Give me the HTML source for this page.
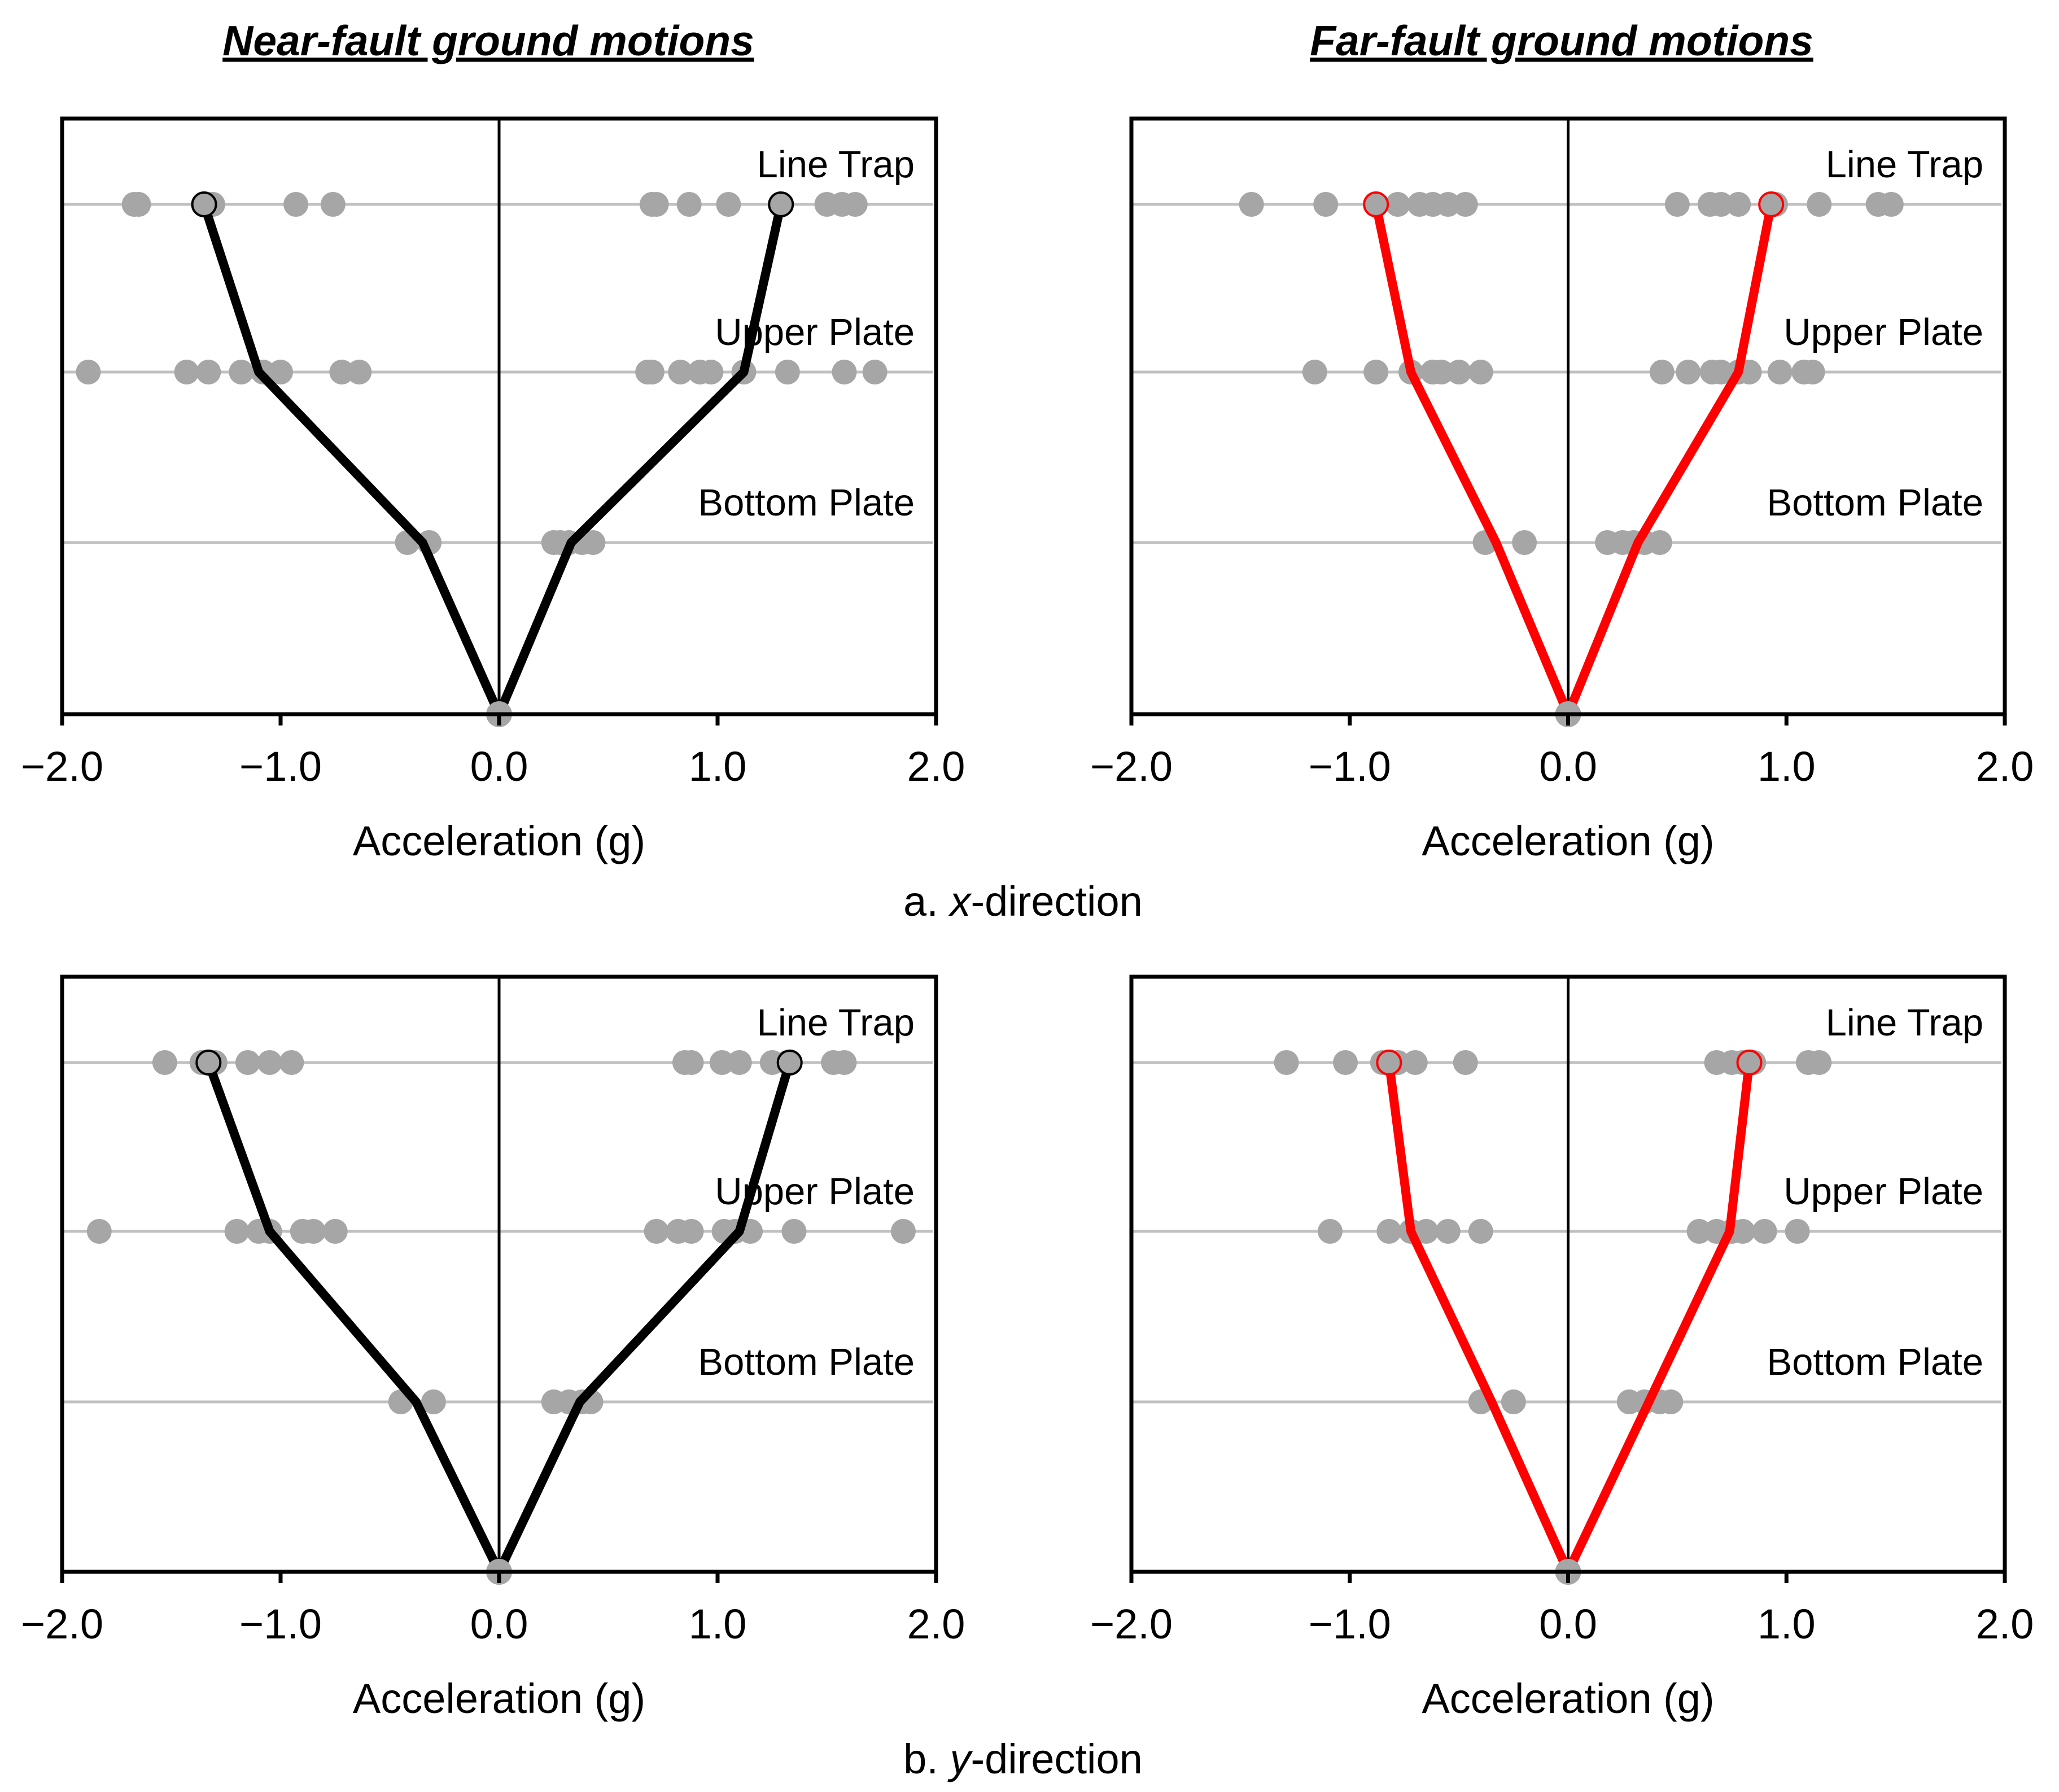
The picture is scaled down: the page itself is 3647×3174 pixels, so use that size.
<!DOCTYPE html>
<html><head><meta charset="utf-8">
<style>
html,body{margin:0;padding:0;background:#fff;}
svg{display:block;font-family:"Liberation Sans",Arial,sans-serif;}
</style></head>
<body>
<svg id="fig" width="3647" height="3174" viewBox="0 0 3647 3174" xmlns="http://www.w3.org/2000/svg">
<text x="865" y="98" text-anchor="middle" font-size="75" font-weight="bold" font-style="italic" text-decoration="underline">Near-fault ground motions</text>
<text x="2766" y="98" text-anchor="middle" font-size="75" font-weight="bold" font-style="italic" text-decoration="underline">Far-fault ground motions</text>
<text x="1812" y="1622" text-anchor="middle" font-size="74">a. <tspan font-style="italic">x</tspan>-direction</text>
<text x="1812" y="3141" text-anchor="middle" font-size="74">b. <tspan font-style="italic">y</tspan>-direction</text>
</svg>
<script>
const levelNames = ["Bottom Plate","Upper Plate","Line Trap"];
const xTicks = [-2,-1,0,1,2];
const xTickLabels = ["\u22122.0","\u22121.0","0.0","1.0","2.0"];
// panel: near x
const nearXMeanNeg = [-0.35,-1.10,-1.35];
const nearXMeanPos = [0.33,1.12,1.29];
const nearXDotsBP = [-0.42,-0.32,0.25,0.28,0.32,0.38,0.43];
const nearXDotsUP = [-1.88,-1.43,-1.33,-1.18,-1.08,-1.0,-0.72,-0.64,0.68,0.70,0.83,0.92,0.97,1.12,1.32,1.58,1.72];
const nearXDotsLT = [-1.67,-1.65,-1.35,-1.31,-0.93,-0.76,0.70,0.72,0.87,1.05,1.29,1.50,1.57,1.63];
// panel: far x
const farXMeanNeg = [-0.33,-0.72,-0.88];
const farXMeanPos = [0.32,0.78,0.93];
const farXDotsBP = [-0.38,-0.2,0.18,0.25,0.30,0.35,0.42];
const farXDotsUP = [-1.16,-0.88,-0.72,-0.62,-0.58,-0.5,-0.4,0.43,0.55,0.66,0.70,0.78,0.83,0.97,1.08,1.12];
const farXDotsLT = [-1.45,-1.11,-0.88,-0.78,-0.68,-0.62,-0.55,-0.47,0.50,0.65,0.70,0.78,0.93,0.95,1.15,1.42,1.48];
// panel: near y
const nearYMeanNeg = [-0.38,-1.05,-1.33];
const nearYMeanPos = [0.37,1.10,1.33];
const nearYDotsBP = [-0.45,-0.3,0.25,0.32,0.38,0.42];
const nearYDotsUP = [-1.83,-1.2,-1.1,-1.05,-0.9,-0.85,-0.75,0.72,0.82,0.88,1.03,1.08,1.15,1.35,1.85];
const nearYDotsLT = [-1.53,-1.36,-1.30,-1.15,-1.05,-0.95,0.85,0.88,1.02,1.10,1.25,1.32,1.53,1.58];
// panel: far y
const farYMeanNeg = [-0.35,-0.72,-0.82];
const farYMeanPos = [0.37,0.74,0.83];
const farYDotsBP = [-0.4,-0.25,0.28,0.35,0.42,0.47];
const farYDotsUP = [-1.09,-0.82,-0.72,-0.65,-0.55,-0.4,0.6,0.68,0.75,0.8,0.9,1.05];
const farYDotsLT = [-1.29,-1.02,-0.85,-0.78,-0.7,-0.47,0.68,0.75,0.8,0.85,1.1,1.15];

const NS = "http://www.w3.org/2000/svg";
const svg = document.getElementById("fig");
function mk(tag, attrs, parent){
  const e = document.createElementNS(NS, tag);
  for (const k in attrs) e.setAttribute(k, attrs[k]);
  (parent||svg).appendChild(e);
  return e;
}
function panel(key, x0, x1, yTop, levelsY, meanNeg, meanPos, dots, lineColor){
  const g = mk("g", {});
  
  
  const sx = v => x0 + (v + 2) / 4 * (x1 - x0);
  const yBot = levelsY[0];
  const ly = [levelsY[1], levelsY[2], levelsY[3]];
  ly.forEach((y, i) => {
    const l = mk("line", {x1:x0, x2:x1-6, y1:y, y2:y, stroke:"#c0c0c0", "stroke-width":5}, g);
    
    
  });
  const z = mk("line", {x1:sx(0), x2:sx(0), y1:yTop, y2:yBot, stroke:"#000", "stroke-width":5}, g);
  
  
  dots.forEach((arr, i) => {
    arr.forEach(v => {
      const c = mk("circle", {cx:sx(v), cy:ly[i], r:22, fill:"#a6a6a6"}, g);
      
      
    });
  });
  [meanNeg, meanPos].forEach((m, j) => {
    let pts = sx(0) + "," + yBot;
    m.forEach((v, i) => { pts += " " + sx(v) + "," + ly[i]; });
    const p = mk("polyline", {points:pts, fill:"none", stroke:lineColor, "stroke-width":16, "stroke-linejoin":"round"}, g);
    
    
    const e = mk("circle", {cx:sx(m[2]), cy:ly[2], r:21, fill:"#a6a6a6", stroke:lineColor, "stroke-width":4}, g);
    
    
  });
  const gp = mk("circle", {cx:sx(0), cy:yBot, r:23, fill:"#a6a6a6"}, g);
  
  
  const fr = mk("rect", {x:x0, y:yTop, width:x1-x0, height:yBot-yTop, fill:"none", stroke:"#000", "stroke-width":7}, g);
  
  
  xTicks.forEach((t, i) => {
    const tk = mk("line", {x1:sx(t), x2:sx(t), y1:yBot, y2:yBot+20, stroke:"#000", "stroke-width":7}, g);
    
    
    const tl = mk("text", {x:sx(t), y:yBot+118, "text-anchor":"middle", "font-size":74}, g);
    tl.textContent = xTickLabels[i];
    
    
  });
  const at = mk("text", {x:sx(0), y:yBot+250, "text-anchor":"middle", "font-size":74}, g);
  at.textContent = "Acceleration (g)";
  
  
  ly.forEach((y, i) => {
    const t = mk("text", {x:x1-38, y:y-48, "text-anchor":"end", "font-size":67}, g);
    t.textContent = levelNames[i];
    
    
  });
}
const topLevels = [1265, 961, 659, 362];
const botLevels = [2784, 2483, 2181, 1882];
panel("near-x", 110, 1658, 210, topLevels, nearXMeanNeg, nearXMeanPos, [nearXDotsBP, nearXDotsUP, nearXDotsLT], "#000");
panel("far-x", 2004, 3551, 210, topLevels, farXMeanNeg, farXMeanPos, [farXDotsBP, farXDotsUP, farXDotsLT], "#ff0000");
panel("near-y", 110, 1658, 1730, botLevels, nearYMeanNeg, nearYMeanPos, [nearYDotsBP, nearYDotsUP, nearYDotsLT], "#000");
panel("far-y", 2004, 3551, 1730, botLevels, farYMeanNeg, farYMeanPos, [farYDotsBP, farYDotsUP, farYDotsLT], "#ff0000");
</script>
</body></html>
